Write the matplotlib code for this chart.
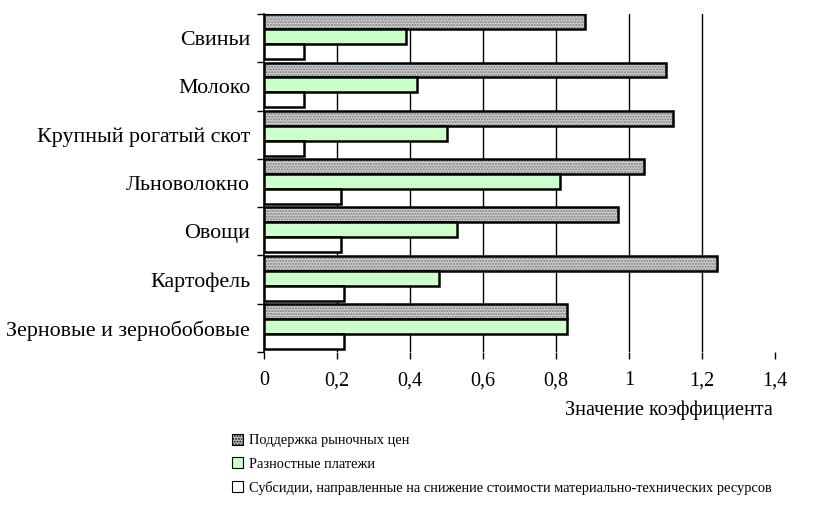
import numpy as np
import matplotlib.pyplot as plt
from matplotlib.patches import Patch

plt.rcParams['font.family'] = ['Liberation Serif', 'DejaVu Serif']

# категории сверху вниз
categories = ['Свиньи', 'Молоко', 'Крупный рогатый скот', 'Льноволокно',
              'Овощи', 'Картофель', 'Зерновые и зернобобовые']
market = [0.88, 1.10, 1.12, 1.04, 0.97, 1.24, 0.83]
diff_pay = [0.39, 0.42, 0.50, 0.81, 0.53, 0.48, 0.83]
subsid = [0.11, 0.11, 0.11, 0.21, 0.21, 0.22, 0.22]
names = ['Поддержка рыночных цен', 'Разностные платежи',
         'Субсидии, направленные на снижение стоимости материально-технических ресурсов']
xticks = [0, 0.2, 0.4, 0.6, 0.8, 1.0, 1.2, 1.4]
xticklabels = ['0', '0,2', '0,4', '0,6', '0,8', '1', '1,2', '1,4']

fig = plt.figure(figsize=(8.19, 5.09), dpi=100)
ax = fig.add_axes([264/819, 1-352/509, (775-264)/819, (352-14)/509])

n = len(categories)
y = np.arange(n)[::-1].astype(float)  # Свиньи сверху
h = 0.31
shift = 0.03

# серая штриховка: заливка + точки, затем чёрный контур
ax.barh(y + h + shift, market, height=h, color='#cfcfcf', edgecolor='#7a7a7a',
        hatch='......', linewidth=0, zorder=3)
ax.barh(y + h + shift, market, height=h, fill=False, edgecolor='black', linewidth=1.8, zorder=4)
ax.barh(y + shift, diff_pay, height=h, color='#ccffcc', edgecolor='black', linewidth=1.8, zorder=4)
ax.barh(y - h + shift, subsid, height=h, color='white', edgecolor='black', linewidth=1.8, zorder=4)

ax.set_xlim(0, 1.4)
ax.set_ylim(-0.5, n - 0.5)
ax.set_xticks(xticks)
ax.set_xticklabels(xticklabels, fontsize=14.5)
ax.set_yticks(y)
ax.set_yticklabels(categories, fontsize=15.8)
ax.tick_params(axis='y', length=0, pad=10)
ax.set_yticks(np.arange(n + 1) - 0.5, minor=True)
ax.tick_params(axis='y', which='minor', length=5, width=1)
ax.tick_params(axis='x', length=5, width=1, pad=9)

for xv in xticks[1:-1]:
    ax.axvline(xv, color='black', linewidth=1, zorder=0)
for s in ['top', 'right', 'bottom']:
    ax.spines[s].set_visible(False)
ax.spines['left'].set_linewidth(1.2)

fig.text(669/819, 1-410/509, 'Значение коэффициента', ha='center', va='center', fontsize=14.5)

handles = [Patch(facecolor='#cfcfcf', edgecolor='black', hatch='......', linewidth=0.8),
           Patch(facecolor='#ccffcc', edgecolor='black', linewidth=0.8),
           Patch(facecolor='white', edgecolor='black', linewidth=0.8)]
fig.legend(handles, names, loc='upper left', bbox_to_anchor=(226/819, 1-428/509),
           frameon=False, fontsize=10.4, handlelength=0.8, handleheight=0.8,
           handletextpad=0.4, labelspacing=0.68, borderaxespad=0)

fig.savefig('out.png', dpi=100)
